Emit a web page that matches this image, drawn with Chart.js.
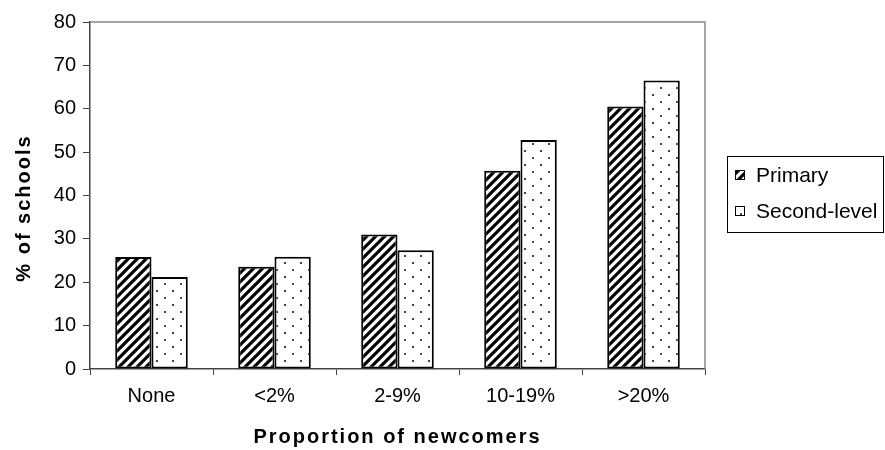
<!DOCTYPE html>
<html>
<head>
<meta charset="utf-8">
<script src="https://cdn.jsdelivr.net/npm/chart.js@4.4.1/dist/chart.umd.min.js"></script>
<style>
  html, body { margin: 0; padding: 0; background: #fff; }
  #wrap { width: 885px; height: 450px; }
</style>
</head>
<body>
<div id="wrap"><canvas id="chart1" width="885" height="450"></canvas></div>
<script>
// data
const categories = ['None', '<2%', '2-9%', '10-19%', '>20%'];
const primary = [25.8, 23.6, 31, 45.7, 60.5];
const secondLevel = [21.2, 25.9, 27.4, 52.8, 66.5];
const seriesNames = ['Primary', 'Second-level'];
const yTitle = '% of schools';
const xTitle = 'Proportion of newcomers';

const FONT = "'Liberation Sans', Arial, sans-serif";

// diagonal hatch "/" for Primary
function hatchPattern() {
  const c = document.createElement('canvas');
  c.width = 9; c.height = 9;
  const g = c.getContext('2d');
  g.fillStyle = '#fff';
  g.fillRect(0, 0, 9, 9);
  g.strokeStyle = '#000';
  g.lineWidth = 3.2;
  g.beginPath();
  g.moveTo(-2, 11); g.lineTo(11, -2);
  g.moveTo(-11, 11); g.lineTo(2, -2);
  g.moveTo(7, 11); g.lineTo(20, -2);
  g.stroke();
  return g.createPattern(c, 'repeat');
}

// sparse dots for Second-level
function dotPattern() {
  const c = document.createElement('canvas');
  c.width = 16; c.height = 14;
  const g = c.getContext('2d');
  g.fillStyle = '#fff';
  g.fillRect(0, 0, 16, 14);
  g.fillStyle = '#444';
  g.fillRect(4, 3, 2, 2);
  g.fillRect(12, 10, 2, 2);
  return g.createPattern(c, 'repeat');
}

const fills = [hatchPattern(), dotPattern()];

// grey frame on top/right, own legend box, axis titles
const extras = {
  id: 'extras',
  afterDraw(chart) {
    const ctx = chart.ctx;
    const a = chart.chartArea;
    ctx.save();
    ctx.strokeStyle = '#888';
    ctx.lineWidth = 1.5;
    ctx.beginPath();
    ctx.moveTo(a.left, a.top);
    ctx.lineTo(a.right, a.top);
    ctx.lineTo(a.right, a.bottom);
    ctx.stroke();

    // legend
    const lx = 727, ly = 156, lw = 156, lh = 76;
    ctx.strokeStyle = '#000';
    ctx.lineWidth = 1;
    ctx.strokeRect(lx + 0.5, ly + 0.5, lw, lh);
    ctx.font = '21px ' + FONT;
    ctx.textBaseline = 'middle';
    chart.data.datasets.forEach((ds, i) => {
      const y = ly + 19 + i * 36;
      ctx.fillStyle = ds.backgroundColor;
      ctx.fillRect(735, y - 5, 10, 10);
      ctx.strokeStyle = '#000';
      ctx.lineWidth = 1;
      ctx.strokeRect(735.5, y - 4.5, 9, 9);
      ctx.fillStyle = '#000';
      ctx.fillText(ds.label, 756, y + 1);
    });

    // axis titles
    ctx.font = 'bold 20px ' + FONT;
    ctx.fillStyle = '#000';
    ctx.textAlign = 'center';
    ctx.letterSpacing = '2px';
    ctx.fillText(xTitle, (a.left + a.right) / 2, 437);
    ctx.translate(24, 208);
    ctx.rotate(-Math.PI / 2);
    ctx.fillText(yTitle, 0, 0);
    ctx.restore();
  }
};

const data = {
  labels: categories,
  datasets: [
    { label: seriesNames[0], data: primary, backgroundColor: fills[0] },
    { label: seriesNames[1], data: secondLevel, backgroundColor: fills[1] }
  ]
};

const config = {
  type: 'bar',
  data: data,
  options: {
    responsive: false,
    animation: false,
    devicePixelRatio: 1,
    layout: { padding: { left: 0, right: 180, top: 22, bottom: 0 } },
    datasets: {
      bar: {
        borderColor: '#000',
        borderWidth: 2,
        borderSkipped: false,
        barPercentage: 1,
        categoryPercentage: 0.59
      }
    },
    plugins: {
      legend: { display: false },
      tooltip: { enabled: false }
    },
    scales: {
      x: {
        afterFit(s) { s.height = 81; },
        grid: { offset: true, drawOnChartArea: false, drawTicks: true, tickLength: 6, color: '#444' },
        border: { color: '#444', width: 1.5 },
        ticks: { color: '#000', font: { family: FONT, size: 20 }, padding: 9, maxRotation: 0 }
      },
      y: {
        min: 0,
        max: 80,
        afterFit(s) { s.width = 90; },
        grid: { drawOnChartArea: false, drawTicks: true, tickLength: 7, color: '#444' },
        border: { color: '#444', width: 1.5 },
        ticks: { stepSize: 10, color: '#000', font: { family: FONT, size: 20 }, padding: 7 }
      }
    }
  },
  plugins: [extras]
};

const myChart = new Chart(document.getElementById('chart1'), config);
</script>
</body>
</html>
